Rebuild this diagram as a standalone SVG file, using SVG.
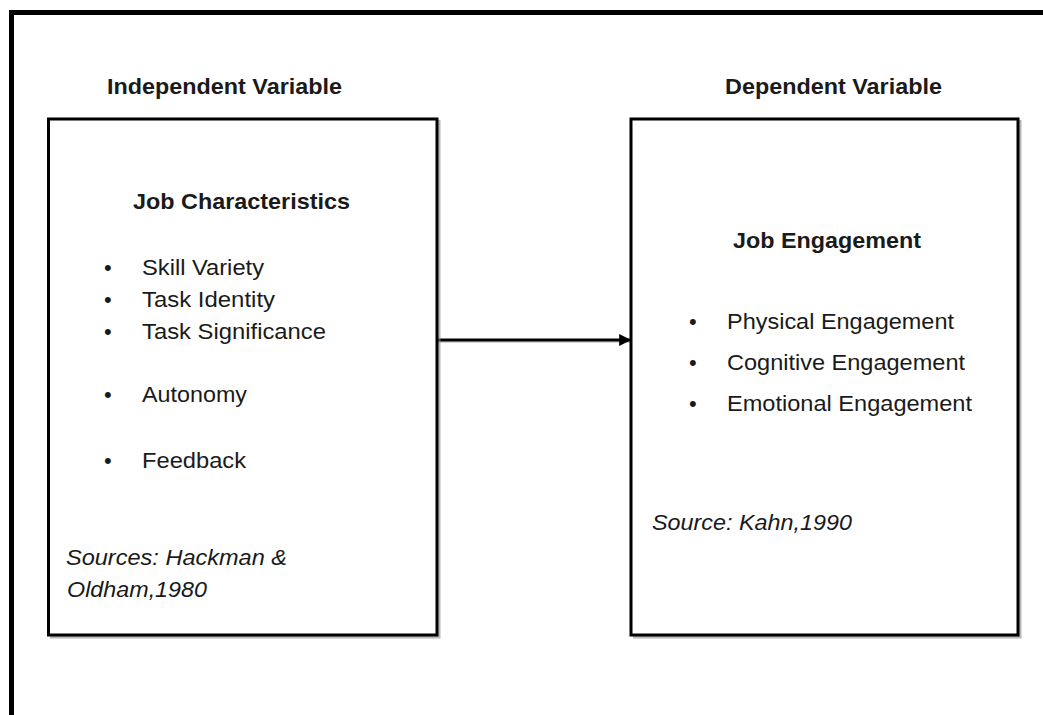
<svg xmlns="http://www.w3.org/2000/svg" width="1043" height="715" viewBox="0 0 1043 715">
<defs>
<style>
.t{font-family:"Liberation Sans",Arial,sans-serif;fill:#1a1a1a;}
.h{font-size:22px;font-weight:bold;}
.b{font-size:22px;}
.i{font-size:22px;font-style:italic;}
.box{fill:#fff;stroke:#000;stroke-width:3;}
.sh{fill:none;stroke:#888;stroke-width:3;opacity:0.6;}
</style>
<marker id="arr" viewBox="0 0 10 10" refX="9" refY="5" markerWidth="4" markerHeight="4" orient="auto" markerUnits="strokeWidth">
<path d="M0,0 L10,5 L0,10 z" fill="#000"/>
</marker>
</defs>
<rect x="0" y="0" width="1043" height="715" fill="#fff"/>
<rect x="11.5" y="12.5" width="1100" height="800" fill="none" stroke="#000" stroke-width="5"/>
<text class="t h" x="107" y="94" textLength="235" lengthAdjust="spacingAndGlyphs">Independent Variable</text>
<text class="t h" x="725" y="94" textLength="217" lengthAdjust="spacingAndGlyphs">Dependent Variable</text>
<g id="connectors">
<line x1="438" y1="341.5" x2="632" y2="341.5" stroke="#999" stroke-width="3" opacity="0.4"/>
<line x1="438" y1="340" x2="630" y2="340" stroke="#000" stroke-width="3" marker-end="url(#arr)"/>
</g>
<g id="node-independent">
<polyline class="sh" points="50,637 439,637 439,120"/>
<rect class="box" x="48.5" y="119" width="388.5" height="516"/>
<text class="t h" x="133" y="209" textLength="217" lengthAdjust="spacingAndGlyphs">Job Characteristics</text>
<text class="t b" x="104" y="275">•</text><text class="t b" x="142" y="275" textLength="122" lengthAdjust="spacingAndGlyphs">Skill Variety</text>
<text class="t b" x="104" y="307">•</text><text class="t b" x="142" y="307" textLength="133" lengthAdjust="spacingAndGlyphs">Task Identity</text>
<text class="t b" x="104" y="339">•</text><text class="t b" x="142" y="339" textLength="184" lengthAdjust="spacingAndGlyphs">Task Significance</text>
<text class="t b" x="104" y="402">•</text><text class="t b" x="142" y="402" textLength="105" lengthAdjust="spacingAndGlyphs">Autonomy</text>
<text class="t b" x="104" y="468">•</text><text class="t b" x="142" y="468" textLength="104" lengthAdjust="spacingAndGlyphs">Feedback</text>
<text class="t i" x="66" y="565" textLength="221" lengthAdjust="spacingAndGlyphs">Sources: Hackman &amp;</text>
<text class="t i" x="67" y="597" textLength="140" lengthAdjust="spacingAndGlyphs">Oldham,1980</text>
</g>
<g id="node-dependent">
<polyline class="sh" points="633,637 1020,637 1020,120"/>
<rect class="box" x="631" y="119" width="387" height="516"/>
<text class="t h" x="733" y="248" textLength="188" lengthAdjust="spacingAndGlyphs">Job Engagement</text>
<text class="t b" x="689" y="329">•</text><text class="t b" x="727" y="329" textLength="227" lengthAdjust="spacingAndGlyphs">Physical Engagement</text>
<text class="t b" x="689" y="370">•</text><text class="t b" x="727" y="370" textLength="238" lengthAdjust="spacingAndGlyphs">Cognitive Engagement</text>
<text class="t b" x="689" y="411">•</text><text class="t b" x="727" y="411" textLength="245" lengthAdjust="spacingAndGlyphs">Emotional Engagement</text>
<text class="t i" x="652" y="530" textLength="200" lengthAdjust="spacingAndGlyphs">Source: Kahn,1990</text>
</g>
</svg>
